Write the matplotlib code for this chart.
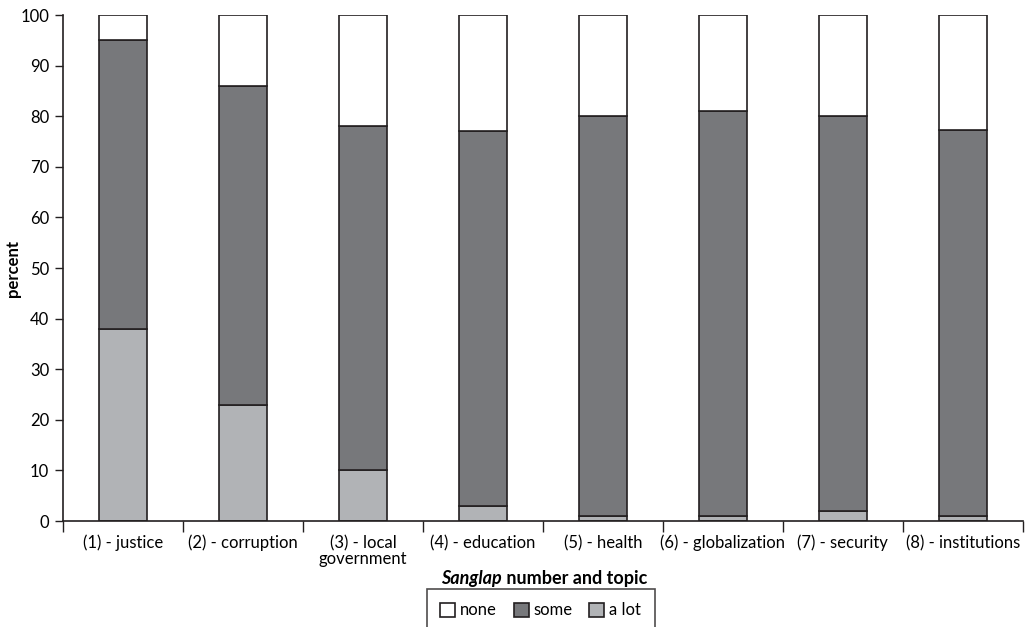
import numpy as np
import matplotlib.pyplot as plt

plt.rcParams['font.family'] = ['Lato', 'DejaVu Sans']

topics = ["(1) - justice", "(2) - corruption", "(3) - local\ngovernment", "(4) - education",
          "(5) - health", "(6) - globalization", "(7) - security", "(8) - institutions"]
a_lot = [38, 23, 10, 3, 1, 1, 2, 1]
some = [57, 63, 68, 74, 79, 80, 78, 76.3]
none = [5, 14, 22, 23, 20, 19, 20, 22.7]

edge = "#231f20"
x = np.arange(len(topics))

fig = plt.figure(figsize=(10.3, 6.27), dpi=100)
ax = fig.add_axes([0.0612, 0.169, 0.9318, 0.807])

b1 = ax.bar(x, a_lot, width=0.4, color="#b1b3b6", edgecolor=edge, linewidth=1.2, label="a lot")
b2 = ax.bar(x, some, width=0.4, bottom=a_lot, color="#77787b", edgecolor=edge, linewidth=1.2, label="some")
b3 = ax.bar(x, none, width=0.4, bottom=np.add(a_lot, some), color="white", edgecolor=edge, linewidth=1.2, label="none")

ax.set_xlim(-0.5, len(topics) - 0.5)
ax.set_ylim(0, 100)
ax.set_yticks(range(0, 101, 10))
ax.set_xticks(x)
ax.set_xticklabels(topics, fontsize=12, linespacing=1.0)
ax.set_xticks(np.arange(-0.5, len(topics)), minor=True)
ax.tick_params(axis='x', which='major', length=0, pad=10)
ax.tick_params(axis='x', which='minor', length=8, width=1, color=edge)
ax.tick_params(axis='y', length=6, width=1, color=edge, labelsize=12, pad=4)

ax.spines[["top", "right"]].set_visible(False)
ax.spines[["left", "bottom"]].set_linewidth(1.2)
ax.spines[["left", "bottom"]].set_color(edge)

fig.text(13 / 1030, 0.169 + 0.807 / 2, "percent", rotation=90, fontsize=12,
         fontweight="bold", ha="center", va="center")

# x label: italic "Sanglap" followed by bold text
t1 = fig.text(0.428, 0.068, "Sanglap", fontsize=13, fontweight="bold", style="italic", va="baseline")
ax.annotate(" number and topic", xy=(1, 0), xycoords=t1, fontsize=13, fontweight="bold", va="bottom")

leg = fig.legend(handles=[b3, b2, b1], labels=["none", "some", "a lot"], ncol=3,
                 loc="upper center", bbox_to_anchor=(0.525, 1 - 589 / 627), borderaxespad=0,
                 frameon=True, fancybox=False,
                 edgecolor=edge, fontsize=12, handlelength=0.9, handleheight=0.9,
                 handletextpad=0.3, columnspacing=1.0, borderpad=0.8)
leg.get_frame().set_linewidth(1.2)

fig.savefig("out.png", dpi=100)
